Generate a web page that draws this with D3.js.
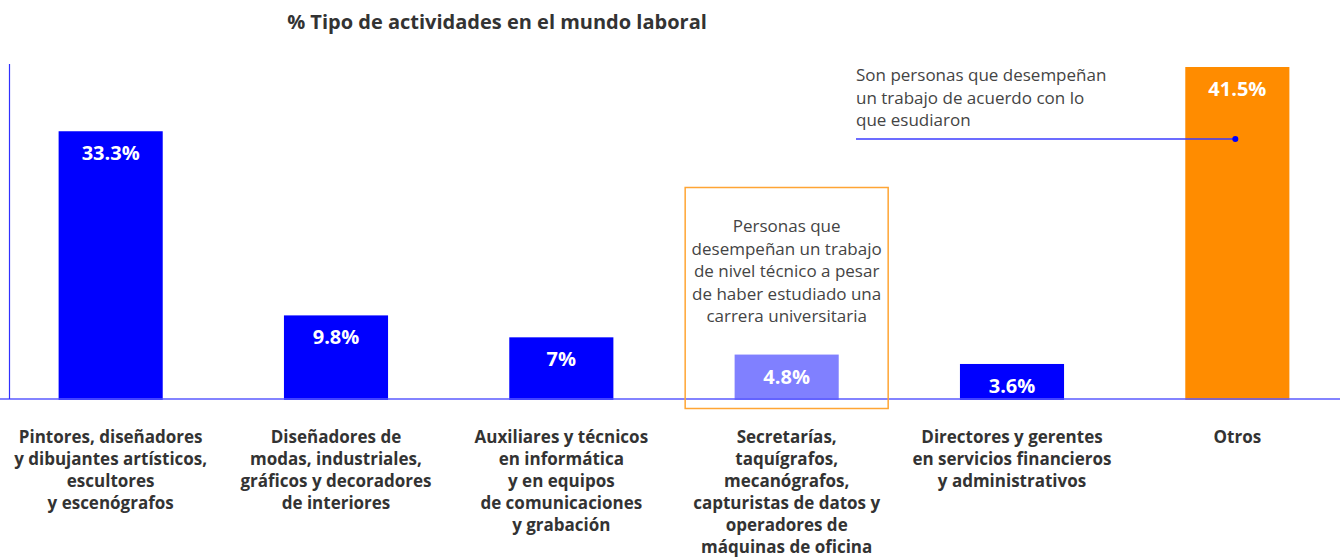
<!DOCTYPE html>
<html>
<head>
<meta charset="utf-8">
<script src="https://cdn.jsdelivr.net/npm/d3@7"></script>
<style>
  body { margin: 0; background: #fff; }
  svg { display: block; font-family: "Open Sans", sans-serif; }
</style>
</head>
<body>
<div id="chart"></div>
<script>
// data
const categories = [
  ['Pintores, diseñadores', 'y dibujantes artísticos,', 'escultores', 'y escenógrafos'],
  ['Diseñadores de', 'modas, industriales,', 'gráficos y decoradores', 'de interiores'],
  ['Auxiliares y técnicos', 'en informática', 'y en equipos', 'de comunicaciones', 'y grabación'],
  ['Secretarías,', 'taquígrafos,', 'mecanógrafos,', 'capturistas de datos y', 'operadores de', 'máquinas de oficina'],
  ['Directores y gerentes', 'en servicios financieros', 'y administrativos'],
  ['Otros']
];
const values = [33.3, 9.8, 7, 4.8, 3.6, 41.5];
const valueLabels = ['33.3%', '9.8%', '7%', '4.8%', '3.6%', '41.5%'];
const barColors = ['#0000ff', '#0000ff', '#0000ff', '#8080ff', '#0000ff', '#ff8c00'];

const boxNote = ['Personas que', 'desempeñan un trabajo', 'de nivel técnico a pesar', 'de haber estudiado una', 'carrera universitaria'];
const topNote = ['Son personas que desempeñan', 'un trabajo de acuerdo con lo', 'que esudiaron'];

const width = 1340, height = 558;
const baseY = 399;

const svg = d3.select('#chart').append('svg')
  .attr('width', width)
  .attr('height', height);

const x = d3.scaleBand()
  .domain(d3.range(values.length))
  .range([-2, 1350])
  .paddingInner(0.538)
  .paddingOuter(0.269);

// baseline sits a little below zero in the original
const y = d3.scaleLinear()
  .domain([-0.87, 41.5])
  .range([baseY, 67]);

// title
svg.append('text')
  .attr('x', 497).attr('y', 29)
  .attr('text-anchor', 'middle')
  .style('font-size', '20px').style('font-weight', 'bold')
  .attr('fill', '#333')
  .text('% Tipo de actividades en el mundo laboral');

// bars
svg.selectAll('rect.bar')
  .data(values)
  .enter().append('rect')
  .attr('class', 'bar')
  .attr('x', (d, i) => x(i))
  .attr('y', d => y(d))
  .attr('width', x.bandwidth())
  .attr('height', d => baseY + 1 - y(d))
  .attr('fill', (d, i) => barColors[i]);

// value labels
svg.selectAll('text.val')
  .data(values)
  .enter().append('text')
  .attr('class', 'val')
  .attr('x', (d, i) => x(i) + x.bandwidth() / 2)
  .attr('y', d => y(d) + 29)
  .attr('text-anchor', 'middle')
  .attr('fill', '#fff')
  .style('font-size', '20px').style('font-weight', 'bold')
  .text((d, i) => valueLabels[i]);

// axes lines
svg.append('line')
  .attr('x1', 0).attr('x2', width)
  .attr('y1', baseY).attr('y2', baseY)
  .attr('stroke', '#5a5aff').attr('stroke-width', 1.5);
svg.append('line')
  .attr('x1', 9.5).attr('x2', 9.5)
  .attr('y1', 64).attr('y2', baseY)
  .attr('stroke', '#3030ff').attr('stroke-width', 1.2);

// category labels
const cat = svg.selectAll('text.cat')
  .data(categories)
  .enter().append('text')
  .attr('class', 'cat')
  .attr('text-anchor', 'middle')
  .attr('fill', '#333')
  .style('font-size', '17px').style('font-weight', 'bold');
cat.selectAll('tspan')
  .data((d, i) => d.map(t => ({ t, i })))
  .enter().append('tspan')
  .attr('x', d => x(d.i) + x.bandwidth() / 2)
  .attr('y', (d, j) => 443 + j * 22)
  .text(d => d.t);

// boxed annotation around 4th bar
const cx4 = x(3) + x.bandwidth() / 2;
svg.append('rect')
  .attr('x', cx4 - 101.5).attr('y', 187.5)
  .attr('width', 203).attr('height', 221)
  .attr('fill', 'none')
  .attr('stroke', '#ffa534').attr('stroke-width', 1.5);
svg.append('text')
  .attr('text-anchor', 'middle')
  .attr('fill', '#444')
  .style('font-size', '17px')
  .selectAll('tspan')
  .data(boxNote)
  .enter().append('tspan')
  .attr('x', cx4)
  .attr('y', (d, j) => 232 + j * 22.5)
  .text(d => d);

// top annotation pointing at last bar
const cx6 = x(5) + x.bandwidth() / 2;
svg.append('text')
  .attr('fill', '#444')
  .style('font-size', '17px')
  .selectAll('tspan')
  .data(topNote)
  .enter().append('tspan')
  .attr('x', 856)
  .attr('y', (d, j) => 81 + j * 22.5)
  .text(d => d);
svg.append('line')
  .attr('x1', 856).attr('x2', cx6 - 2)
  .attr('y1', 139).attr('y2', 139)
  .attr('stroke', '#3b3bff').attr('stroke-width', 1.5);
svg.append('circle')
  .attr('cx', cx6 - 2).attr('cy', 139).attr('r', 3)
  .attr('fill', '#0000ff');
</script>
</body>
</html>
